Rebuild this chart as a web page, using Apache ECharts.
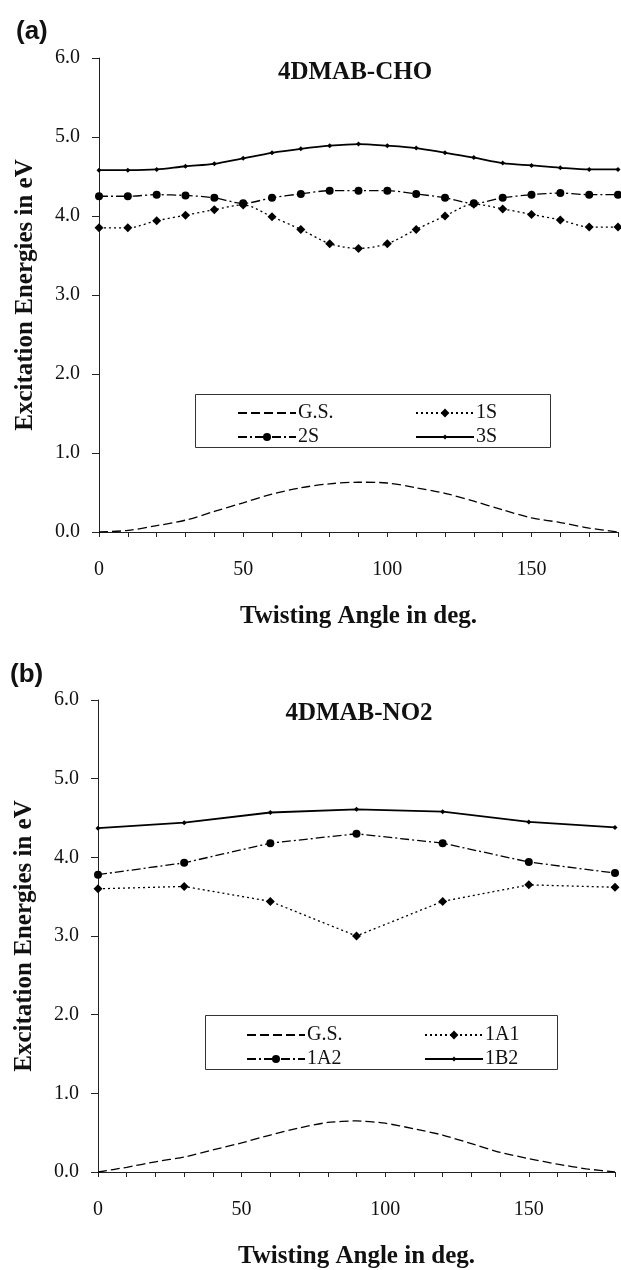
<!DOCTYPE html>
<html lang="en">
<head>
    <meta charset="UTF-8">
    <title>4DMAB excitation energies</title>
    <script src="https://cdn.jsdelivr.net/npm/echarts@6/dist/echarts.min.js"></script>
    <style>
        html, body { margin: 0; padding: 0; background: #fff; }
        #app { width: 621px; height: 1270px; }
    </style>
</head>
<body>
<div id="app"></div>
<script>
    // twisting angles
    var anglesFine = [0, 10, 20, 30, 40, 50, 60, 70, 80, 90, 100, 110, 120, 130, 140, 150, 160, 170, 180]
    var anglesB = [0, 30, 60, 90, 120, 150, 180]

    // (a) 4DMAB-CHO
    var gsA = [0, 0.02, 0.08, 0.15, 0.26, 0.37, 0.48, 0.56, 0.61, 0.63, 0.62, 0.56, 0.49, 0.39, 0.28, 0.18, 0.12, 0.05, 0]
    var s1A = [3.85, 3.85, 3.94, 4.01, 4.08, 4.14, 3.99, 3.83, 3.65, 3.59, 3.65, 3.83, 4.00, 4.15, 4.09, 4.02, 3.95, 3.86, 3.86]
    var s2A = [4.25, 4.25, 4.27, 4.26, 4.23, 4.16, 4.23, 4.28, 4.32, 4.32, 4.32, 4.28, 4.23, 4.16, 4.23, 4.27, 4.29, 4.27, 4.27]
    var s3A = [4.58, 4.58, 4.59, 4.63, 4.66, 4.73, 4.80, 4.85, 4.89, 4.91, 4.89, 4.86, 4.80, 4.74, 4.67, 4.64, 4.61, 4.59, 4.59]

    // (b) 4DMAB-NO2
    var gsB = [0, 0.06, 0.13, 0.19, 0.28, 0.37, 0.47, 0.56, 0.63, 0.65, 0.62, 0.55, 0.47, 0.36, 0.25, 0.17, 0.10, 0.04, 0]
    var a1B = [3.60, 3.63, 3.44, 3.00, 3.44, 3.65, 3.62]
    var a2B = [3.78, 3.93, 4.18, 4.30, 4.18, 3.94, 3.80]
    var b2B = [4.37, 4.44, 4.57, 4.61, 4.58, 4.45, 4.38]

    var yTicks = [0, 1, 2, 3, 4, 5, 6]
    var xLabels = [0, 50, 100, 150]

    var serif = '"Liberation Serif", "DejaVu Serif", serif'
    var sans = '"Liberation Sans", Arial, sans-serif'
    var ink = '#111'

    function pairs(xs, ys) {
        return xs.map(function (x, i) { return [x, ys[i]] })
    }

    function xAxisFor(idx) {
        return {
            gridIndex: idx, type: 'value', min: 0, max: 180, interval: 10,
            name: 'Twisting Angle in deg.', nameLocation: 'middle', nameGap: 72,
            nameTextStyle: { fontFamily: serif, fontWeight: 'bold', fontSize: 25, color: ink },
            axisLine: { lineStyle: { color: '#222', width: 1 } },
            axisTick: { length: 5, lineStyle: { color: '#222' } },
            splitLine: { show: false },
            axisLabel: {
                margin: 28, fontFamily: serif, fontSize: 20, color: ink,
                formatter: function (v) { return xLabels.indexOf(v) >= 0 ? String(v) : '' }
            }
        }
    }

    function yAxisFor(idx) {
        return {
            gridIndex: idx, type: 'value', min: yTicks[0], max: yTicks[yTicks.length - 1], interval: 1,
            name: 'Excitation Energies in eV', nameLocation: 'middle', nameGap: 61,
            nameTextStyle: { fontFamily: serif, fontWeight: 'bold', fontSize: 25, color: ink },
            axisLine: { show: true, lineStyle: { color: '#222', width: 1 } },
            axisTick: { show: true, length: 7, lineStyle: { color: '#222' } },
            splitLine: { show: false },
            axisLabel: {
                margin: 19, fontFamily: serif, fontSize: 20, color: ink,
                formatter: function (v) { return v.toFixed(1) }
            }
        }
    }

    function mkSeries(name, idx, data, dash, symbol, size, width, smooth) {
        return {
            name: name, type: 'line', xAxisIndex: idx, yAxisIndex: idx,
            data: data, smooth: smooth,
            symbol: symbol, symbolSize: size, showSymbol: symbol !== 'none',
            itemStyle: { color: '#000' },
            lineStyle: { color: '#000', width: width, type: dash },
            emphasis: { disabled: true },
            z: 3
        }
    }

    // one legend per entry so each marker keeps its own size
    function legendItem(item, left, top, markH) {
        return {
            data: [item], left: left, top: top,
            padding: 0, itemWidth: 58, itemHeight: markH,
            selectedMode: false,
            textStyle: { fontFamily: serif, fontSize: 20, color: ink, lineHeight: 20, padding: [0, 0, 0, -3] }
        }
    }

    var noMark = { color: 'rgba(0,0,0,0)', borderWidth: 0 }

    var chart = echarts.init(document.getElementById('app'), null, { renderer: 'canvas' })

    var dashed = [9, 4]
    var dotted = [2, 3]
    var dashDot = [9, 3, 2, 3]

    chart.setOption({
        animation: false,
        backgroundColor: '#fff',
        title: [
            { text: '(a)', left: 11, top: 14,
              textStyle: { fontFamily: sans, fontWeight: 'bold', fontSize: 26, color: ink } },
            { text: '4DMAB-CHO', left: 350, top: 55, textAlign: 'center',
              textStyle: { fontFamily: serif, fontWeight: 'bold', fontSize: 25, color: ink } },
            { text: '(b)', left: 5, top: 657,
              textStyle: { fontFamily: sans, fontWeight: 'bold', fontSize: 26, color: ink } },
            { text: '4DMAB-NO2', left: 354, top: 696, textAlign: 'center',
              textStyle: { fontFamily: serif, fontWeight: 'bold', fontSize: 25, color: ink } }
        ],
        grid: [
            { left: 99, top: 58, width: 519, height: 474 },
            { left: 98, top: 700, width: 517, height: 472 }
        ],
        xAxis: [xAxisFor(0), xAxisFor(1)],
        yAxis: [yAxisFor(0), yAxisFor(1)],
        legend: [
            legendItem({ name: 'G.S.', itemStyle: noMark }, 237, 403, 10),
            legendItem('2S', 237, 427, 10),
            legendItem('1S', 415, 403, 11),
            legendItem('3S', 415, 427, 6),
            legendItem({ name: 'G.S.', itemStyle: noMark }, 246, 1025, 10),
            legendItem('1A2', 246, 1049, 10),
            legendItem('1A1', 424, 1025, 11),
            legendItem('1B2', 424, 1049, 6)
        ],
        graphic: [
            { type: 'rect', shape: { x: 195.5, y: 394.5, width: 355, height: 53 },
              style: { fill: 'none', stroke: '#333', lineWidth: 1 } },
            { type: 'rect', shape: { x: 205.5, y: 1015.5, width: 352, height: 54 },
              style: { fill: 'none', stroke: '#333', lineWidth: 1 } }
        ],
        series: [
            mkSeries('G.S.', 0, pairs(anglesFine, gsA), dashed, 'none', 0, 1.3, 0.3),
            mkSeries('1S', 0, pairs(anglesFine, s1A), dotted, 'diamond', 9, 1.3, 0.3),
            mkSeries('2S', 0, pairs(anglesFine, s2A), dashDot, 'circle', 8, 1.3, 0.3),
            mkSeries('3S', 0, pairs(anglesFine, s3A), 'solid', 'diamond', 5, 1.8, 0.3),
            mkSeries('G.S.', 1, pairs(anglesFine, gsB), dashed, 'none', 0, 1.3, 0.2),
            mkSeries('1A1', 1, pairs(anglesB, a1B), dotted, 'diamond', 9, 1.3, false),
            mkSeries('1A2', 1, pairs(anglesB, a2B), dashDot, 'circle', 8, 1.3, false),
            mkSeries('1B2', 1, pairs(anglesB, b2B), 'solid', 'diamond', 5, 1.8, false)
        ]
    })
</script>
</body>
</html>
